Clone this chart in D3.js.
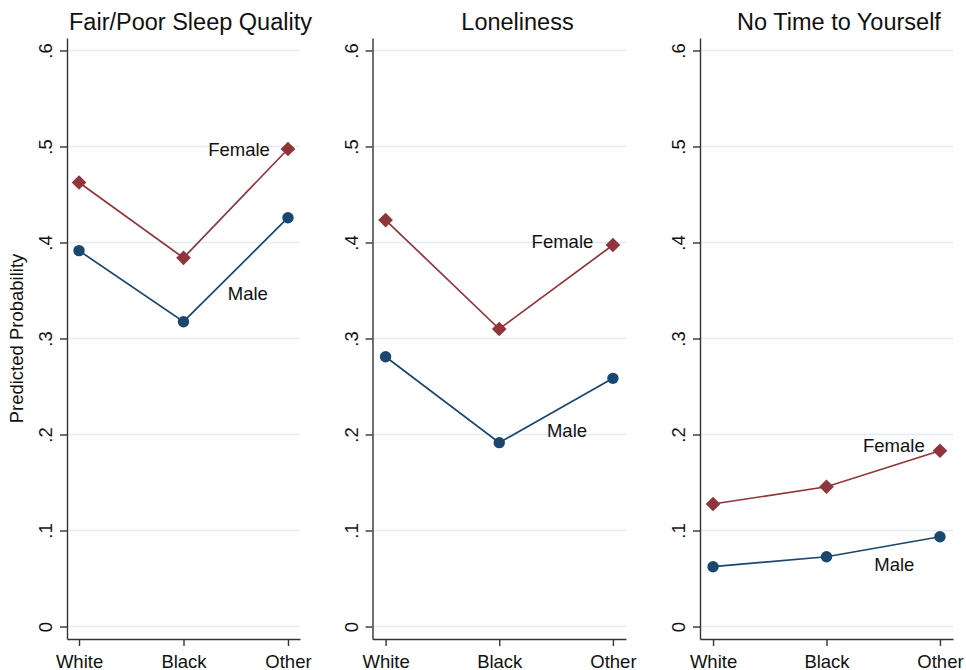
<!DOCTYPE html>
<html>
<head>
<meta charset="utf-8">
<script src="https://cdn.jsdelivr.net/npm/d3@7"></script>
<style>
  html, body { margin: 0; padding: 0; background: #fff; }
  svg { display: block; font-family: "Liberation Sans", Arial, sans-serif; }
</style>
</head>
<body>
<div id="chart"></div>
<script>
const categories = ["White", "Black", "Other"];
const panelTitles = ["Fair/Poor Sleep Quality", "Loneliness", "No Time to Yourself"];

// predicted probabilities, one row per panel, one value per category
const femaleValues = [
  [0.4625, 0.384, 0.4974],
  [0.4234, 0.3099, 0.3974],
  [0.1276, 0.1456, 0.1831],
];
const maleValues = [
  [0.3915, 0.3175, 0.4258],
  [0.281, 0.1915, 0.2585],
  [0.0623, 0.0727, 0.0935],
];

// where the "Female" / "Male" text sits: [category index, probability]
const femaleLabelAt = [[1.532, 0.497], [1.556, 0.401], [1.594, 0.189]];
const maleLabelAt = [[1.616, 0.347], [1.596, 0.2046], [1.598, 0.0647]];

const yTicks = [0, 0.1, 0.2, 0.3, 0.4, 0.5, 0.6];
const yTickLabels = ["0", ".1", ".2", ".3", ".4", ".5", ".6"];

const width = 966, height = 670;
const femaleColor = "#90353b", maleColor = "#1a476f";
const axisColor = "#333", gridColor = "#e4ecf1";
const labelSize = "18.5px";

// plot areas of the three panels
const panels = [
  { left: 67, right: 300, titleX: 190.5 },
  { left: 372.5, right: 626, titleX: 517.5 },
  { left: 700, right: 953, titleX: 839 },
];

const y = d3.scaleLinear().domain([-0.013, 0.613]).range([639, 38]);

const svg = d3.select("#chart").append("svg")
  .attr("width", width).attr("height", height)
  .attr("viewBox", [0, 0, width, height]);

svg.append("text")
  .attr("transform", `translate(23,${y(0.3)}) rotate(-90)`)
  .attr("text-anchor", "middle")
  .attr("font-size", labelSize)
  .attr("fill", "#111")
  .text("Predicted Probability");

panels.forEach((p, i) => {
  const x = d3.scalePoint().domain(categories).range([p.left, p.right]).padding(0.115);
  const xAt = (idx) => x(categories[0]) + idx * x.step();
  const g = svg.append("g");

  g.append("text")
    .attr("x", p.titleX).attr("y", 29.5)
    .attr("text-anchor", "middle")
    .attr("font-size", "23.5px")
    .attr("fill", "#111")
    .text(panelTitles[i]);

  g.append("g")
    .selectAll("line")
    .data(yTicks)
    .join("line")
    .attr("x1", p.left).attr("x2", p.right)
    .attr("y1", (d) => y(d)).attr("y2", (d) => y(d))
    .attr("stroke", gridColor).attr("stroke-width", 1.3);

  const yAxis = g.append("g")
    .attr("transform", `translate(${p.left},0)`)
    .call(d3.axisLeft(y).tickValues(yTicks)
      .tickFormat((d, k) => yTickLabels[k]).tickSize(7).tickSizeOuter(0))
    .attr("font-family", null).attr("font-size", labelSize);
  yAxis.selectAll(".tick text")
    .attr("x", null).attr("dy", null)
    .attr("transform", "translate(-15,0) rotate(-90)")
    .attr("text-anchor", "middle").attr("fill", "#111");

  const xAxis = g.append("g")
    .attr("transform", `translate(0,${y.range()[0]})`)
    .call(d3.axisBottom(x).tickSize(7).tickSizeOuter(0))
    .attr("font-family", null).attr("font-size", labelSize);
  xAxis.selectAll(".tick text").attr("dy", null).attr("y", 28.5).attr("fill", "#111");

  [yAxis, xAxis].forEach((a) => {
    a.selectAll(".domain, .tick line").attr("stroke", axisColor).attr("stroke-width", 1.4);
  });

  const line = d3.line().x((d, k) => x(categories[k])).y((d) => y(d));

  const series = [
    { values: femaleValues[i], color: femaleColor, shape: "diamond", name: "Female", at: femaleLabelAt[i] },
    { values: maleValues[i], color: maleColor, shape: "circle", name: "Male", at: maleLabelAt[i] },
  ];

  series.forEach((s) => {
    g.append("path")
      .attr("d", line(s.values))
      .attr("fill", "none")
      .attr("stroke", s.color)
      .attr("stroke-width", 1.7);

    if (s.shape === "diamond") {
      g.append("g").selectAll("path")
        .data(s.values)
        .join("path")
        .attr("d", d3.symbol(d3.symbolSquare, 108)())
        .attr("transform", (d, k) => `translate(${x(categories[k])},${y(d)}) rotate(45)`)
        .attr("fill", s.color);
    } else {
      g.append("g").selectAll("circle")
        .data(s.values)
        .join("circle")
        .attr("cx", (d, k) => x(categories[k]))
        .attr("cy", (d) => y(d))
        .attr("r", 5.7)
        .attr("fill", s.color);
    }

    g.append("text")
      .attr("x", xAt(s.at[0]))
      .attr("y", y(s.at[1]))
      .attr("dy", "0.36em")
      .attr("text-anchor", "middle")
      .attr("font-size", labelSize)
      .attr("fill", "#111")
      .text(s.name);
  });
});
</script>
</body>
</html>
